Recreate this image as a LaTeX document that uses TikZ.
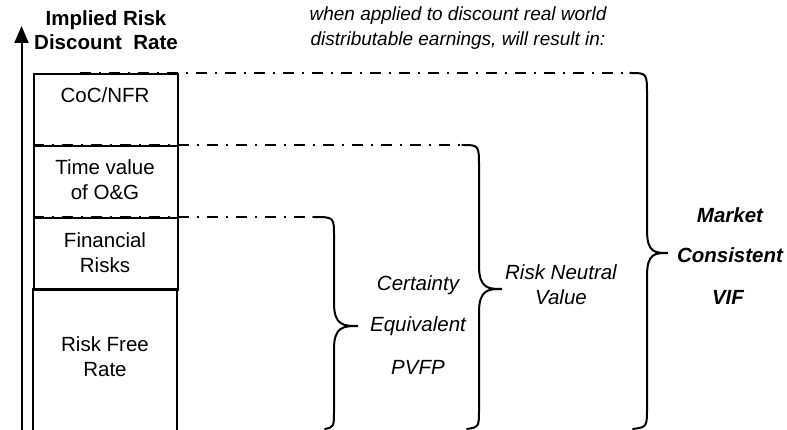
\documentclass[tikz,border=0pt]{standalone}
\usepackage{fontspec}
\setmainfont{Liberation Sans}
\usetikzlibrary{arrows.meta}
\begin{document}
\begin{tikzpicture}[x=1pt,y=-1pt,
  txt/.style={inner sep=0pt,align=center,font=\fontsize{20.5}{25}\selectfont},
  itxt/.style={txt,font=\fontsize{20.5}{25}\selectfont\itshape},
  bitxt/.style={txt,font=\fontsize{20.5}{25}\selectfont\bfseries\itshape},
  cell/.style={draw,line width=1.8pt,minimum width=144pt,minimum height=72pt,inner sep=0pt,anchor=north west},
  dashdot/.style={line width=2pt,dash pattern=on 11pt off 7.5pt on 2.5pt off 8pt},
  brace/.style={line width=2pt,line cap=round}]
\useasboundingbox (0,0) rectangle (787,430);
% axis
\coordinate (axb) at (21.5,430);
\coordinate (axt) at (21.5,26);
\draw[line width=2pt,-{Triangle[length=17pt,width=14pt]}] (axb) -- (axt);
% header texts
\node[txt,font=\fontsize{20.5}{24}\selectfont\bfseries] (ylab) at (106,30) {Implied Risk\\Discount\ \ Rate};
\node[txt,font=\fontsize{19}{25}\selectfont\itshape] (top) at (458,28) {when applied to discount real world\\distributable earnings, will result in:};
% cells
\node[cell] (c1) at (33,73) {};
\node[cell] (c2) at (33,145) {};
\node[cell] (c3) at (33,217) {};
\draw[line width=1.8pt] (33,440) -- (33,289) -- (177,289) -- (177,440);
\coordinate (c4) at (105,357);
\node[txt] (t1) at (105,95) {CoC/NFR};
\node[txt] (t2) at (105,180) {Time value\\of O\&G};
\node[txt] (t3) at (105,253) {Financial\\Risks};
\node[txt] (t4) at (c4) {Risk Free\\Rate};
% dash-dot lines
\coordinate (d1a) at (80,73);  \coordinate (d1b) at (630,73);
\coordinate (d2a) at (33,145); \coordinate (d2b) at (462,145);
\coordinate (d3a) at (33,217); \coordinate (d3b) at (313,217);
\draw[dashdot] (d1a) -- (d1b);
\draw[dashdot] (d2a) -- (d2b);
\draw[dashdot] (d3a) -- (d3b);
% braces
\draw[brace] (d1b) .. controls (647,73) .. (647,95) -- (647,230)
  .. controls (647,253) and (655,253) .. (668,253)
  .. controls (655,253) and (647,253) .. (647,276) -- (647,407)
  .. controls (647,427) .. (633,429);
\draw[brace] (d2b) .. controls (479,145) .. (479,167) -- (479,266)
  .. controls (479,289) and (489,289) .. (502,289)
  .. controls (489,289) and (479,289) .. (479,312) -- (479,409)
  .. controls (479,427) .. (467,429);
\draw[brace] (d3b) .. controls (334,217) .. (334,236) -- (334,303)
  .. controls (334,326) and (344,326) .. (358,326)
  .. controls (344,326) and (334,326) .. (334,349) -- (334,409)
  .. controls (334,427) .. (325,429);
% result labels
\node[itxt] (ce1) at (418,285) {Certainty};
\node[itxt] (ce2) at (418,326) {Equivalent};
\node[itxt] (ce3) at (418,367) {PVFP};
\node[itxt] (rn) at (561,285) {Risk Neutral\\Value};
\node[bitxt] (m1) at (730,215) {Market};
\node[bitxt] (m2) at (730,255) {Consistent};
\node[bitxt] (m3) at (728,297) {VIF};
\end{tikzpicture}
\end{document}
